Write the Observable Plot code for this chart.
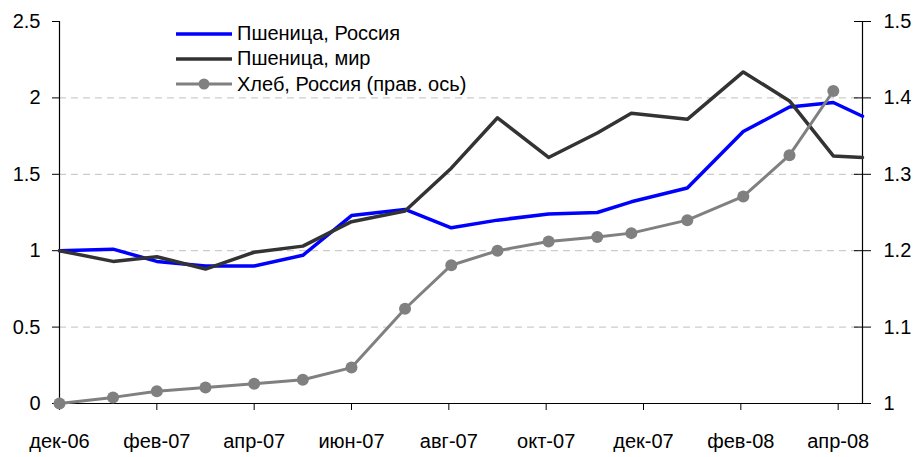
<!DOCTYPE html>
<html>
<head>
<meta charset="utf-8">
<script src="https://cdn.jsdelivr.net/npm/d3@7"></script>
<script src="https://cdn.jsdelivr.net/npm/@observablehq/plot@0.6"></script>
<style>
  body { margin: 0; background: #fff; font-family: "Liberation Sans", Arial, sans-serif; }
  #wrap { position: relative; width: 914px; height: 457px; }
  #legend { position: absolute; left: 176px; top: 21px; font-size: 20px; color: #000; }
  .row { display: flex; align-items: center; height: 25.3px; white-space: nowrap; }
  .row svg { display: block; margin-right: 5px; }
</style>
</head>
<body>
<div id="wrap">
  <div id="chart"></div>
  <div id="legend"></div>
</div>
<script>
// Month index since Dec-2006 (fractional positions)
const months = [0, 1.1, 2, 3, 4, 5, 6, 7.1, 8.05, 9, 10.05, 11.05, 11.75, 12.9, 14.05, 15, 15.9, 16.5];
// Left axis series
const wheatRussia = [1.0, 1.01, 0.93, 0.90, 0.90, 0.97, 1.23, 1.27, 1.15, 1.20, 1.24, 1.25, 1.32, 1.41, 1.78, 1.94, 1.97, 1.88];
const wheatWorld  = [1.0, 0.93, 0.96, 0.88, 0.99, 1.03, 1.19, 1.26, 1.54, 1.87, 1.61, 1.77, 1.90, 1.86, 2.17, 1.98, 1.62, 1.61];
// Right axis series (17 points)
const breadRussia = [1.0, 1.008, 1.016, 1.021, 1.026, 1.031, 1.047, 1.124, 1.181, 1.200, 1.212, 1.218, 1.223, 1.240, 1.271, 1.325, 1.409];

const xTickPositions = [0, 2, 4, 6, 8, 10, 12, 14, 16];
const xTickLabels = ["дек-06", "фев-07", "апр-07", "июн-07", "авг-07", "окт-07", "дек-07", "фев-08", "апр-08"];
const leftTicks = [0, 0.5, 1, 1.5, 2, 2.5];
const rightTicks = [1, 1.1, 1.2, 1.3, 1.4, 1.5];
const gridValues = [0.5, 1, 1.5, 2];
const seriesNames = ["Пшеница, Россия", "Пшеница, мир", "Хлеб, Россия (прав. ось)"];
const seriesColors = ["#0000ff", "#333333", "#808080"];

const xMax = 16.5;
// right axis (1..1.5) mapped onto left scale (0..2.5)
const rightToLeft = r => (r - 1) * 5;

const wr = months.map((m, i) => ({m, v: wheatRussia[i]}));
const ww = months.map((m, i) => ({m, v: wheatWorld[i]}));
const br = breadRussia.map((v, i) => ({m: months[i], v: rightToLeft(v)}));

const chart = Plot.plot({
  width: 914,
  height: 457,
  marginLeft: 59,
  marginRight: 52,
  marginTop: 21,
  marginBottom: 54,
  style: { fontFamily: "'Liberation Sans', Arial, sans-serif", fontSize: "20px", color: "#000", background: "#fff" },
  x: { domain: [0, xMax] },
  y: { domain: [0, 2.5] },
  marks: [
    Plot.ruleY(gridValues, { stroke: "#c0c0c0", strokeDasharray: "7,5", strokeWidth: 1 }),
    Plot.axisY(leftTicks, { anchor: "left", tickSize: 7, tickPadding: 12, tickFormat: d => String(d), label: null, stroke: "#000" }),
    Plot.axisY(rightTicks.map(rightToLeft), {
      anchor: "right", tickSize: 17, dx: -9, tickPadding: 13, label: null,
      tickFormat: (d, i) => String(rightTicks[i]), stroke: "#000"
    }),
    Plot.axisX(xTickPositions, { anchor: "bottom", tickSize: 7, tickPadding: 23, tickFormat: (d, i) => xTickLabels[i], label: null, stroke: "#000" }),
    Plot.ruleX([0], { stroke: "#000", strokeWidth: 1.2 }),
    Plot.ruleX([xMax], { stroke: "#000", strokeWidth: 1.2 }),
    Plot.ruleY([0], { stroke: "#000", strokeWidth: 1.2 }),
    Plot.line(wr, { x: "m", y: "v", stroke: seriesColors[0], strokeWidth: 3.5 }),
    Plot.line(ww, { x: "m", y: "v", stroke: seriesColors[1], strokeWidth: 3.5 }),
    Plot.line(br, { x: "m", y: "v", stroke: seriesColors[2], strokeWidth: 3 }),
    Plot.dot(br, { x: "m", y: "v", r: 6, fill: seriesColors[2], stroke: "none" })
  ]
});
document.getElementById("chart").appendChild(chart);

// Legend
const legend = document.getElementById("legend");
seriesNames.forEach((name, i) => {
  const row = document.createElement("div");
  row.className = "row";
  const ns = "http://www.w3.org/2000/svg";
  const s = document.createElementNS(ns, "svg");
  s.setAttribute("width", 56); s.setAttribute("height", 12);
  const ln = document.createElementNS(ns, "line");
  ln.setAttribute("x1", 0); ln.setAttribute("x2", 56); ln.setAttribute("y1", 6); ln.setAttribute("y2", 6);
  ln.setAttribute("stroke", seriesColors[i]); ln.setAttribute("stroke-width", i === 2 ? 3 : 3.5);
  s.appendChild(ln);
  if (i === 2) {
    const c = document.createElementNS(ns, "circle");
    c.setAttribute("cx", 28); c.setAttribute("cy", 6); c.setAttribute("r", 5.5);
    c.setAttribute("fill", seriesColors[i]);
    s.appendChild(c);
  }
  row.appendChild(s);
  const t = document.createElement("span");
  t.textContent = name;
  row.appendChild(t);
  legend.appendChild(row);
});
</script>
</body>
</html>
